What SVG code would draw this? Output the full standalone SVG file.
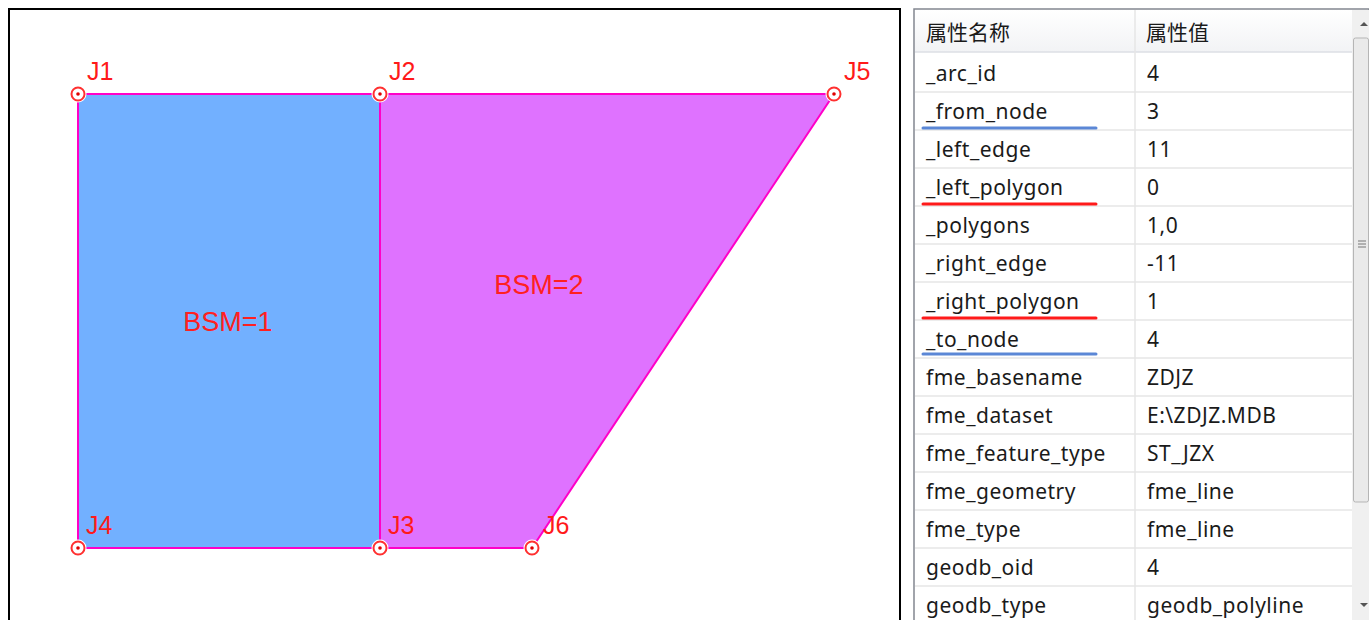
<svg xmlns="http://www.w3.org/2000/svg" width="1369" height="620" viewBox="0 0 1369 620">
<defs>
<style>
.lbl{font-family:"Liberation Sans","DejaVu Sans",sans-serif;font-size:25px;fill:#ff1a1a}
.bsm{font-family:"Liberation Sans","DejaVu Sans",sans-serif;font-size:27px;fill:#ff2020;text-anchor:middle}
.cell{font-family:"Noto Sans","Noto Sans CJK SC",sans-serif;font-size:21px;letter-spacing:0.5px;fill:#1a1a1a}
.hdr{font-family:"Noto Sans CJK SC","Noto Sans",sans-serif;font-size:21px;fill:#1a1a1a}
.sep{stroke:#e6e6e6;stroke-width:1.5}
.edge{stroke:#ff00c8;stroke-width:2;fill:none}
</style>
<g id="pt">
<circle r="8.5" fill="#ffffff" stroke="none"/>
<circle r="6.5" fill="#fff" stroke="#ff3030" stroke-width="2"/>
<circle r="1.8" fill="#e00000"/>
</g>
<linearGradient id="hg" x1="0" y1="0" x2="0" y2="1">
<stop offset="0" stop-color="#ffffff"/>
<stop offset="1" stop-color="#f2f3f5"/>
</linearGradient>
</defs>
<rect width="1369" height="620" fill="#ffffff"/>
<!-- left map panel -->
<rect x="9" y="9" width="891" height="620" fill="#ffffff" stroke="#000" stroke-width="2"/>
<g id="polygon1">
<polygon points="78,94 380,94 380,548 78,548" fill="#72b0ff"/>
<polygon points="78,94 380,94 380,548 78,548" class="edge"/>
<text class="bsm" x="228" y="331">BSM=1</text>
</g>
<g id="polygon2">
<polygon points="380,94 834,94 532,548 380,548" fill="#df72ff"/>
<polygon points="380,94 834,94 532,548 380,548" class="edge"/>
<text class="bsm" x="539" y="294">BSM=2</text>
</g>
<g id="nodes">
<use href="#pt" x="78" y="94"/>
<use href="#pt" x="380" y="94"/>
<use href="#pt" x="834" y="94"/>
<use href="#pt" x="78" y="548"/>
<use href="#pt" x="380" y="548"/>
<use href="#pt" x="532" y="548"/>
<text class="lbl" x="87" y="80">J1</text>
<text class="lbl" x="389" y="80">J2</text>
<text class="lbl" x="844" y="80">J5</text>
<text class="lbl" x="86" y="534">J4</text>
<text class="lbl" x="388" y="534">J3</text>
<text class="lbl" x="543" y="534">J6</text>
</g>
<!-- right table -->
<g id="table">
<rect x="914" y="9" width="455" height="620" fill="#ffffff" stroke="#828790" stroke-width="1.5"/>
<rect x="915" y="10" width="437" height="42" fill="url(#hg)"/>
<line x1="915" y1="52" x2="1352" y2="52" stroke="#dcdfe4" stroke-width="1.5"/>
<line x1="1135" y1="10" x2="1135" y2="620" class="sep"/>
<g class="sep">
<line x1="915" y1="92" x2="1352" y2="92"/>
<line x1="915" y1="130" x2="1352" y2="130"/>
<line x1="915" y1="168" x2="1352" y2="168"/>
<line x1="915" y1="206" x2="1352" y2="206"/>
<line x1="915" y1="244" x2="1352" y2="244"/>
<line x1="915" y1="282" x2="1352" y2="282"/>
<line x1="915" y1="320" x2="1352" y2="320"/>
<line x1="915" y1="358" x2="1352" y2="358"/>
<line x1="915" y1="396" x2="1352" y2="396"/>
<line x1="915" y1="434" x2="1352" y2="434"/>
<line x1="915" y1="472" x2="1352" y2="472"/>
<line x1="915" y1="510" x2="1352" y2="510"/>
<line x1="915" y1="548" x2="1352" y2="548"/>
<line x1="915" y1="586" x2="1352" y2="586"/>
</g>
<text class="hdr" x="926" y="40">属性名称</text>
<text class="hdr" x="1146" y="40">属性值</text>
<g class="cell">
<text x="926" y="81">_arc_id</text><text x="1147" y="81">4</text>
<text x="926" y="119">_from_node</text><text x="1147" y="119">3</text>
<text x="926" y="157">_left_edge</text><text x="1147" y="157">11</text>
<text x="926" y="195">_left_polygon</text><text x="1147" y="195">0</text>
<text x="926" y="233">_polygons</text><text x="1147" y="233">1,0</text>
<text x="926" y="271">_right_edge</text><text x="1147" y="271">-11</text>
<text x="926" y="309">_right_polygon</text><text x="1147" y="309">1</text>
<text x="926" y="347">_to_node</text><text x="1147" y="347">4</text>
<text x="926" y="385">fme_basename</text><text x="1147" y="385">ZDJZ</text>
<text x="926" y="423">fme_dataset</text><text x="1147" y="423">E:\ZDJZ.MDB</text>
<text x="926" y="461">fme_feature_type</text><text x="1147" y="461">ST_JZX</text>
<text x="926" y="499">fme_geometry</text><text x="1147" y="499">fme_line</text>
<text x="926" y="537">fme_type</text><text x="1147" y="537">fme_line</text>
<text x="926" y="575">geodb_oid</text><text x="1147" y="575">4</text>
<text x="926" y="613">geodb_type</text><text x="1147" y="613">geodb_polyline</text>
</g>
<g stroke-width="3" stroke-linecap="round">
<line x1="923" y1="128" x2="1096" y2="128" stroke="#5b87d6"/>
<line x1="923" y1="204" x2="1096" y2="204" stroke="#ff1a1a"/>
<line x1="923" y1="318" x2="1096" y2="318" stroke="#ff1a1a"/>
<line x1="923" y1="354" x2="1096" y2="354" stroke="#5b87d6"/>
</g>
<!-- scrollbar -->
<rect x="1352" y="10" width="17" height="610" fill="#f0f0f0"/>
<rect x="1353.5" y="38" width="15" height="464" rx="2" fill="#eaeaea" stroke="#b5b5b5"/>
<g stroke="#777" stroke-width="1">
<line x1="1358" y1="241" x2="1366" y2="241"/>
<line x1="1358" y1="244" x2="1366" y2="244"/>
<line x1="1358" y1="247" x2="1366" y2="247"/>
</g>
<polygon points="1360,26 1364,22 1368,26" fill="#555"/>
<polygon points="1360,603 1364,607 1368,603" fill="#555"/>
</g>
</svg>
